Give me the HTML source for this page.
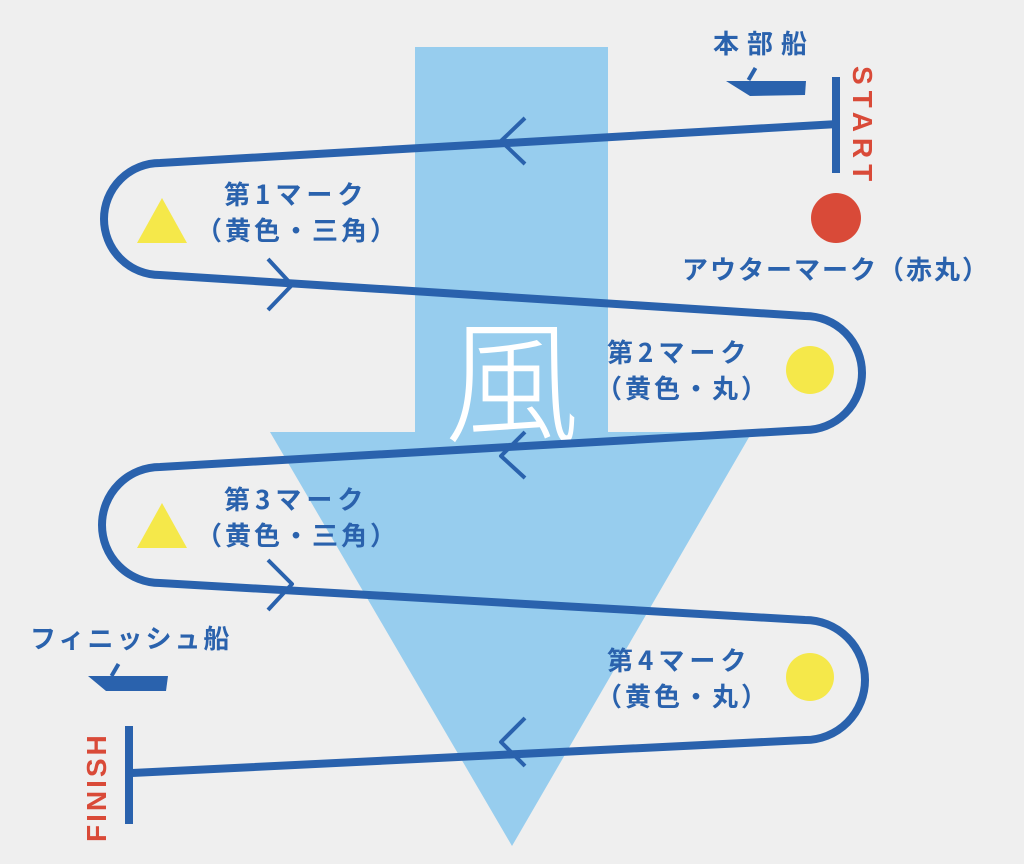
<!DOCTYPE html>
<html><head><meta charset="utf-8"><style>
html,body{margin:0;padding:0;background:#efefef;}
svg{display:block}
text{font-family:"Noto Sans CJK JP","Liberation Sans",sans-serif;}
.lb{fill:#2a62ad;font-weight:bold;font-size:26px;letter-spacing:3px;}
.rd{font-family:"Liberation Sans",sans-serif;font-weight:bold;font-size:28px;fill:#d94a38;}
</style></head><body>
<svg width="1024" height="864" viewBox="0 0 1024 864">
<rect width="1024" height="864" fill="#efefef"/>
<rect x="415" y="47" width="193" height="386" fill="#97cdee"/>
<polygon points="270,432 752,432 512,846" fill="#97cdee"/>
<text x="512" y="432" font-size="136" fill="#fff" text-anchor="middle" style="font-weight:300">風</text>
<g fill="none" stroke="#2a62ad" stroke-width="8" stroke-linejoin="round">
<path d="M838,124 L160,163 A56,56 0 0 0 160,275 L805,316 A57,57 0 0 1 805,430 L160,467 A58,58 0 0 0 160,583 L805,620 A60,60 0 0 1 805,740 L132,773"/>
<path d="M525,118 L501,141 L525,164" stroke-width="4"/>
<path d="M268,259 L292,285 L268,310" stroke-width="4"/>
<path d="M525,432 L501,456 L525,478" stroke-width="4"/>
<path d="M268,560 L292,584 L268,610" stroke-width="4"/>
<path d="M525,718 L501,742 L525,766" stroke-width="4"/>
</g>
<rect x="832" y="77" width="8" height="96" fill="#2a62ad"/>
<rect x="125" y="726" width="8" height="98" fill="#2a62ad"/>
<circle cx="836" cy="218" r="25" fill="#d94a38"/>
<polygon points="162,198 137,243 187,243" fill="#f5e84a"/>
<polygon points="162,503 137,548 187,548" fill="#f5e84a"/>
<circle cx="810" cy="370" r="24" fill="#f5e84a"/>
<circle cx="810" cy="677" r="24" fill="#f5e84a"/>
<g fill="#2a62ad">
<path d="M726,81 L806,81 L805,95 L750,96 Z"/>
<rect x="750" y="67" width="4" height="14" transform="rotate(30 752 74)"/>
<path d="M88,676 L168,676 L166,691 L106,691 Z"/>
<rect x="113" y="663" width="4" height="14" transform="rotate(30 115 670)"/>
</g>
<text class="rd" x="853" y="66" letter-spacing="6" transform="rotate(90 853 66)">START</text>
<text class="rd" x="106" y="842" letter-spacing="3" transform="rotate(-90 106 842)">FINISH</text>
<text class="lb" x="713" y="53" style="letter-spacing:8px">本部船</text>
<text class="lb" x="30" y="648" style="letter-spacing:3px">フィニッシュ船</text>
<text class="lb" x="682" y="279" style="letter-spacing:2px">アウターマーク（赤丸）</text>
<text class="lb" x="224" y="204" style="letter-spacing:5px">第1マーク</text>
<text class="lb" x="196" y="240">（黄色・三角）</text>
<text class="lb" x="607" y="362" style="letter-spacing:5px">第2マーク</text>
<text class="lb" x="596" y="398">（黄色・丸）</text>
<text class="lb" x="224" y="509" style="letter-spacing:5px">第3マーク</text>
<text class="lb" x="196" y="545">（黄色・三角）</text>
<text class="lb" x="607" y="670" style="letter-spacing:5px">第4マーク</text>
<text class="lb" x="596" y="706">（黄色・丸）</text>
</svg>
</body></html>
